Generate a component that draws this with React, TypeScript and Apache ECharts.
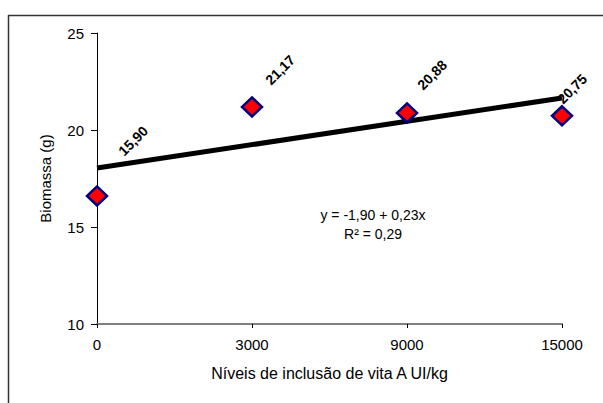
import React, { useEffect, useRef } from "react";
import * as echarts from "echarts";

const categories = ["0", "3000", "9000", "15000"];
const biomassa = [16.6, 21.19, 20.88, 20.73];
const pointLabels = ["15,90", "21,17", "20,88", "20,75"];
const trendStart = 18.04;
const trendEnd = 21.65;
const yTicks = { min: 10, max: 25, interval: 5 };

// screen offsets (dx, dy) of the rotated value labels relative to each marker
const labelScreenOffsets: [number, number][] = [
  [36, -55],
  [28, -37],
  [25, -38],
  [10, -27],
];

const FONT = "Liberation Sans, Arial, sans-serif";

export default function App() {
  const ref = useRef<HTMLDivElement>(null);
  useEffect(() => {
    if (!ref.current) return;
    const chart = echarts.init(ref.current, undefined, { renderer: "svg" });
    const c = Math.SQRT1_2;
    const trendData = categories.map((_, i) =>
      i === 0 ? trendStart : i === categories.length - 1 ? trendEnd : null
    );
    chart.setOption({
      animation: false,
      backgroundColor: "#ffffff",
      textStyle: { fontFamily: FONT },
      grid: { left: 97, right: 41, top: 33, bottom: 79, containLabel: false },
      xAxis: {
        type: "category",
        data: categories,
        boundaryGap: false,
        name: "Níveis de inclusão de vita A UI/kg",
        nameLocation: "middle",
        nameGap: 41,
        nameTextStyle: { fontSize: 16, color: "#000", fontFamily: FONT },
        axisLine: { lineStyle: { color: "#808080", width: 2 } },
        axisTick: { show: true, length: 4, alignWithLabel: true, lineStyle: { color: "#000", width: 1 } },
        axisLabel: { fontSize: 15, color: "#000", margin: 13, fontFamily: FONT },
        splitLine: { show: false },
      },
      yAxis: {
        type: "value",
        min: yTicks.min,
        max: yTicks.max,
        interval: yTicks.interval,
        name: "Biomassa (g)",
        nameLocation: "middle",
        nameGap: 44,
        nameTextStyle: { fontSize: 15, color: "#000", fontFamily: FONT },
        axisLine: { show: true, lineStyle: { color: "#000", width: 1 } },
        axisTick: { show: true, length: 6, lineStyle: { color: "#000", width: 1 } },
        axisLabel: { fontSize: 15, color: "#000", margin: 13, fontFamily: FONT },
        splitLine: { show: false },
      },
      series: [
        {
          type: "line",
          data: trendData,
          connectNulls: true,
          symbol: "none",
          lineStyle: { color: "#000", width: 5 },
          z: 2,
        },
        {
          type: "scatter",
          z: 3,
          symbol: "diamond",
          symbolSize: [20, 19],
          itemStyle: { color: "#FF0000", borderColor: "#000080", borderWidth: 2.5, opacity: 1 },
          data: biomassa.map((v, i) => {
            const [dx, dy] = labelScreenOffsets[i];
            return {
              value: v,
              label: {
                show: true,
                position: "inside",
                rotate: 45,
                offset: [c * (dx - dy), c * (dx + dy)],
                formatter: pointLabels[i],
                fontSize: 14,
                fontWeight: "bold",
                color: "#000",
                fontFamily: FONT,
              },
            };
          }),
        },
      ],
      graphic: [
        { type: "line", shape: { x1: 8.5, y1: 15, x2: 8.5, y2: 403 }, style: { stroke: "#333", lineWidth: 1.5 } },
        { type: "line", shape: { x1: 8, y1: 15.5, x2: 603, y2: 15.5 }, style: { stroke: "#333", lineWidth: 1.5 } },
        {
          type: "text",
          x: 373,
          y: 215,
          style: { text: "y = -1,90 + 0,23x", fontSize: 14, fill: "#000", fontFamily: FONT, align: "center", verticalAlign: "middle" },
        },
        {
          type: "text",
          x: 373,
          y: 234,
          style: { text: "R² = 0,29", fontSize: 14, fill: "#000", fontFamily: FONT, align: "center", verticalAlign: "middle" },
        },
      ],
    });
    return () => chart.dispose();
  }, []);
  return <div ref={ref} style={{ width: 603, height: 403, position: "absolute", left: 0, top: 0 }} />;
}
